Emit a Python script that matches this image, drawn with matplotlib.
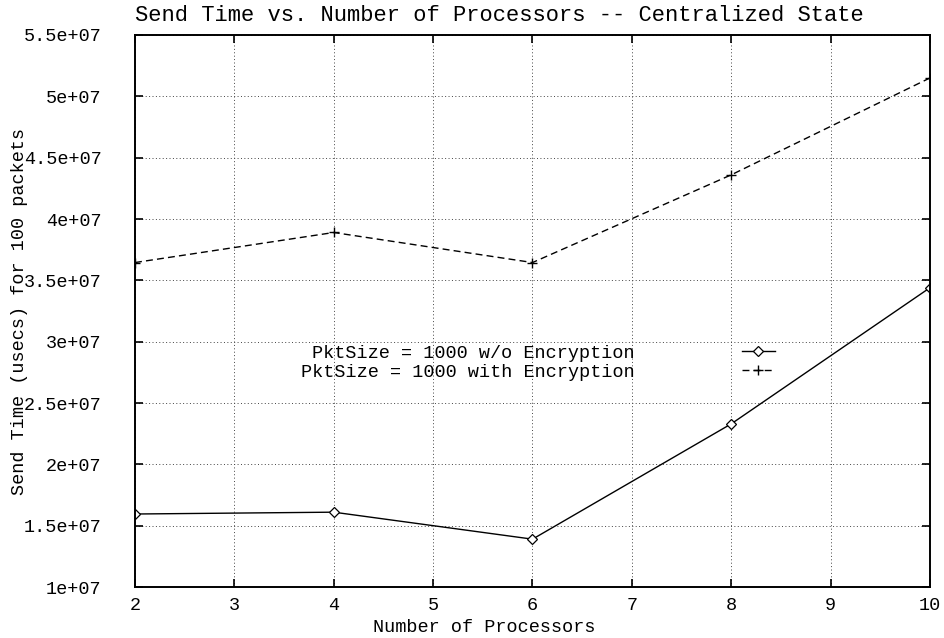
# plot.py
# send time vs number of processors, gnuplot-like look

import matplotlib
matplotlib.use('Agg')
import matplotlib.pyplot as plt

plt.rcParams['font.family'] = ['Liberation Mono', 'DejaVu Sans Mono']
plt.rcParams['font.size'] = 13.3

# data
processors = [2, 4, 6, 8, 10]
no_encryption = [1.595e7, 1.61e7, 1.39e7, 2.33e7, 3.44e7]
with_encryption = [3.645e7, 3.89e7, 3.645e7, 4.36e7, 5.15e7]

x_ticks = [2, 3, 4, 5, 6, 7, 8, 9, 10]
y_ticks = [1e7, 1.5e7, 2e7, 2.5e7, 3e7, 3.5e7, 4e7, 4.5e7, 5e7, 5.5e7]
y_tick_labels = ['1e+07', '1.5e+07', '2e+07', '2.5e+07', '3e+07',
                 '3.5e+07', '4e+07', '4.5e+07', '5e+07', '5.5e+07']

fig = plt.figure(figsize=(9.45, 6.38), dpi=100)
ax = fig.add_axes([135/945, 51/638, 795/945, 552/638])

ax.plot(processors, no_encryption, color='black', lw=1.0,
        marker='D', markersize=5.5, markerfacecolor='white', markeredgewidth=0.9,
        label='PktSize = 1000 w/o Encryption')
ax.plot(processors, with_encryption, color='black', lw=1.0, dashes=(5, 3),
        marker='+', markersize=7, markeredgewidth=1.0,
        label='PktSize = 1000 with Encryption')

ax.set_xlim(2, 10)
ax.set_ylim(1e7, 5.5e7)
ax.set_xticks(x_ticks)
ax.set_yticks(y_ticks)
ax.set_yticklabels(y_tick_labels)

# gnuplot style: inward ticks on all sides, dotted grid
ax.tick_params(direction='in', length=6, width=1.2, top=True, right=True)
ax.tick_params(axis='x', pad=7)
ax.tick_params(axis='y', pad=24)
ax.grid(True, color='#444444', lw=0.7, linestyle=(0, (1, 2.5)))
for s in ax.spines.values():
    s.set_linewidth(1.4)

ax.set_title('Send Time vs. Number of Processors -- Centralized State',
             loc='left', pad=10)
ax.set_xlabel('Number of Processors')
ax.xaxis.set_label_coords(0.439, -0.058)
ax.set_ylabel('Send Time (usecs) for 100 packets')
ax.yaxis.set_label_coords(-0.135, 0.5)

leg = ax.legend(loc='center right', bbox_to_anchor=(0.805, 0.406),
                frameon=False, markerfirst=False, handlelength=1.8,
                handletextpad=5.8, labelspacing=0.1, borderpad=0,
                borderaxespad=0)

fig.savefig('out.png', dpi=100)
